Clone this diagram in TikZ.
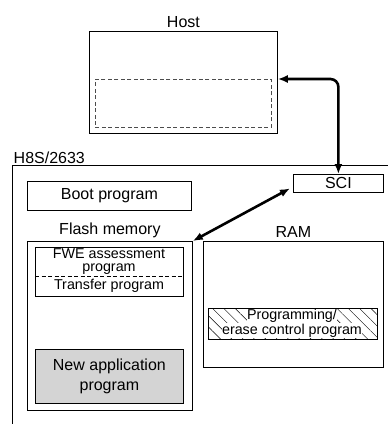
\documentclass[tikz,border=0pt]{standalone}
\usepackage{fontspec}
\setmainfont{Liberation Sans}
\usetikzlibrary{arrows.meta, positioning, patterns.meta}
\tikzset{
    blockbox/.style={rectangle, draw=black, line width=0.8pt, inner sep=0pt, anchor=north west},
    areabox/.style={rectangle, draw=black!70, dashed, dash pattern=on 4pt off 2.5pt, line width=0.7pt, inner sep=0pt, anchor=north west},
    bigtext/.style={font=\fontsize{16}{19.5}\selectfont, align=center},
    smalltext/.style={font=\fontsize{14.3}{13.5}\selectfont, align=center},
    boxlabel/.style={bigtext, inner sep=1pt},
    link/.style={{Latex[length=10pt,width=8pt]}-{Latex[length=10pt,width=8pt]}, line width=2.6pt, rounded corners=8pt},
}

\begin{document}
\begin{tikzpicture}[x=1pt,y=-1pt]
\useasboundingbox[fill=white] (0,0) rectangle (388,424);

% host side
\node[blockbox,minimum width=188pt,minimum height=102pt] (host) at (89,31) {};
\node[areabox,minimum width=176pt,minimum height=48pt] (hostarea) at (95,79) {};
\node[boxlabel,above=2pt of host] (hostlabel) {Host};

% chip outline (open at right and bottom)
\coordinate (chipbottom) at (12,424);
\coordinate (chipcorner) at (12,165);
\coordinate (chipright) at (388,165);
\draw[line width=0.8pt] (chipbottom) -- (chipcorner) -- (chipright);
\node[boxlabel,anchor=south west,inner sep=1.5pt] (chiplabel) at (chipcorner) {H8S/2633};

\node[blockbox,bigtext,minimum width=90pt,minimum height=18pt] (sci) at (293,174) {SCI};
\node[blockbox,bigtext,minimum width=164pt,minimum height=29pt] (boot) at (27,181) {Boot program};

% flash memory
\node[blockbox,minimum width=165pt,minimum height=169pt] (flash) at (27,241) {};
\node[boxlabel,above=2pt of flash] (flashlabel) {Flash memory};
\node[blockbox,minimum width=148pt,minimum height=49pt] (fwe) at (35,247) {};
\coordinate (fwesplitl) at (35,276);
\coordinate (fwesplitr) at (183,276);
\draw[dashed, dash pattern=on 4pt off 2.5pt, line width=0.7pt] (fwesplitl) -- (fwesplitr);
\node[smalltext] (fwetext) at (109,261.5) {FWE assessment\\program};
\node[smalltext] (transfertext) at (109,286) {Transfer program};
\node[blockbox,bigtext,fill=black!17,minimum width=148pt,minimum height=54pt] (newapp) at (35,349) {New application\\program};

% RAM
\node[blockbox,minimum width=180pt,minimum height=126pt] (ram) at (203,241) {};
\node[boxlabel,above=2pt of ram] (ramlabel) {RAM};
\node[blockbox,pattern={Lines[angle=-45,distance=8pt,line width=0.4pt]},minimum width=169pt,minimum height=31pt] (eraseprg) at (208,308) {};
\node[smalltext,fill=white,inner sep=0.5pt] (eraseline1) at (292,316) {Programming/};
\node[smalltext,fill=white,inner sep=0.5pt] (eraseline2) at (292,330.5) {erase control program};

% transfer paths
\draw[link] (host.east |- hostarea.north) -| (sci.north);
\draw[link] ([xshift=-3pt,yshift=-5pt]sci.west) -- (flash.north east);
\end{tikzpicture}
\end{document}
